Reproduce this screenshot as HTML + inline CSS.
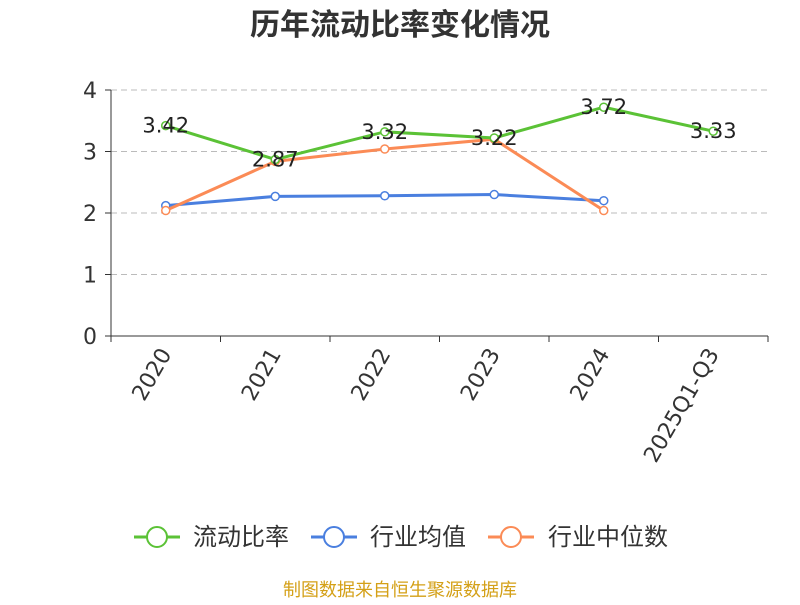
<!DOCTYPE html>
<html><head><meta charset="utf-8">
<style>
body{margin:0;background:#fff;font-family:"Liberation Sans","Noto Sans CJK SC",sans-serif;}
svg text{font-family:"DejaVu Sans","Liberation Sans","Noto Sans CJK SC",sans-serif;}
</style></head>
<body>
<svg width="800" height="600">
<text x="400" y="35" text-anchor="middle" font-size="30" font-weight="bold" fill="#333" style="font-family:'Noto Sans CJK SC',sans-serif">历年流动比率变化情况</text>
<g id="grid"></g><g id="axes"></g><g id="series"></g>
<g style="font-family:'Noto Sans CJK SC',sans-serif">
 <g><line x1="134" y1="537" x2="180" y2="537" stroke="#5bc236" stroke-width="3"/><circle cx="157" cy="537" r="10" fill="#fff" stroke="#5bc236" stroke-width="2"/><text x="193" y="545" font-size="24" fill="#333" style="font-family:'Noto Sans CJK SC',sans-serif">流动比率</text></g>
 <g><line x1="311" y1="537" x2="357" y2="537" stroke="#4a7fdf" stroke-width="3"/><circle cx="334" cy="537" r="10" fill="#fff" stroke="#4a7fdf" stroke-width="2"/><text x="370" y="545" font-size="24" fill="#333" style="font-family:'Noto Sans CJK SC',sans-serif">行业均值</text></g>
 <g><line x1="488" y1="537" x2="534" y2="537" stroke="#fb8b56" stroke-width="3"/><circle cx="511" cy="537" r="10" fill="#fff" stroke="#fb8b56" stroke-width="2"/><text x="548" y="545" font-size="24" fill="#333" style="font-family:'Noto Sans CJK SC',sans-serif">行业中位数</text></g>
</g>
<text x="400" y="596" text-anchor="middle" font-size="18" fill="#d4a017" style="font-family:'Noto Sans CJK SC',sans-serif">制图数据来自恒生聚源数据库</text>
</svg>
<script>
const categories=["2020","2021","2022","2023","2024","2025Q1-Q3"];
const currentRatio=[3.42,2.87,3.32,3.22,3.72,3.33];
const industryAvg=[2.12,2.27,2.28,2.30,2.20];
const industryMedian=[2.04,2.84,3.04,3.20,2.04];
const yTicks=[0,1,2,3,4];
const NS="http://www.w3.org/2000/svg";
const x0=111,x1=768,yBase=336,yTop=90,yMax=4;
const band=(x1-x0)/categories.length;
const xs=i=>x0+band*(i+0.5);
const ys=v=>yBase-(v/yMax)*(yBase-yTop);
function mk(tag,attrs,parent){const e=document.createElementNS(NS,tag);for(const k in attrs)e.setAttribute(k,attrs[k]);parent.appendChild(e);return e;}
const grid=document.getElementById('grid'),axes=document.getElementById('axes'),ser=document.getElementById('series');
yTicks.forEach(t=>{
 const y=ys(t);
 if(t>0){const g=mk('line',{x1:x0,x2:x1,y1:y,y2:y,stroke:'#bbb','stroke-dasharray':'6,4'},grid);
 
 }
 mk('line',{x1:x0-6,x2:x0,y1:y,y2:y,stroke:'#333'},axes);
 const tx=mk('text',{x:x0-14,y:y+8,'text-anchor':'end','font-size':22,fill:'#333'},axes);tx.textContent=t;
 
 
});
mk('line',{x1:x0,x2:x0,y1:yTop,y2:yBase,stroke:'#333'},axes);
mk('line',{x1:x0,x2:x1,y1:yBase,y2:yBase,stroke:'#333'},axes);
for(let i=0;i<=categories.length;i++){const x=x0+band*i;mk('line',{x1:x,x2:x,y1:yBase,y2:yBase+6,stroke:'#333'},axes);}
categories.forEach((c,i)=>{
 const x=xs(i)-7,y=yBase+10;
 const t=mk('text',{x:x,y:y,'text-anchor':'end','font-size':22,fill:'#333',transform:`rotate(-60 ${x} ${y})`,dy:'0.7em'},axes);
 t.textContent=c;
 
 
});
function series(vals,color,name){
 const pts=vals.map((v,i)=>xs(i)+','+ys(v)).join(' ');
 const pl=mk('polyline',{points:pts,fill:'none',stroke:color,'stroke-width':3},ser);
 
 
 vals.forEach((v,i)=>{
  const c=mk('circle',{cx:xs(i),cy:ys(v),r:4,fill:'#fff',stroke:color,'stroke-width':1.5},ser);
  
  
 });
}
series(industryAvg,'#4a7fdf','industry-avg');
series(industryMedian,'#fb8b56','industry-median');
series(currentRatio,'#5bc236','current-ratio');
currentRatio.forEach((v,i)=>{
 const t=mk('text',{x:xs(i),y:ys(v)+7,'text-anchor':'middle','font-size':21,fill:'#222'},ser);
 t.textContent=v.toFixed(2);
 
 
});
</script>
</body></html>
